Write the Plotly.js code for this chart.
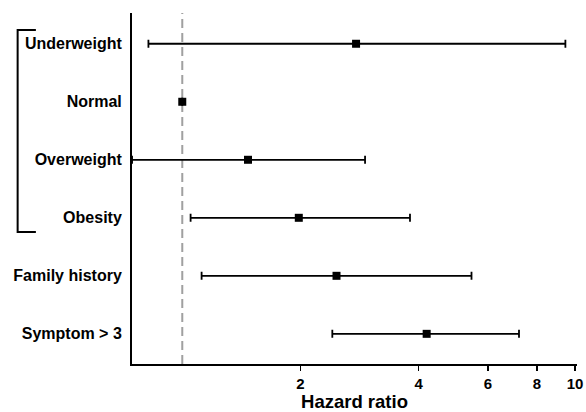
<!DOCTYPE html>
<html>
<head>
<meta charset="utf-8">
<script src="https://cdn.plot.ly/plotly-3.0.1.min.js"></script>
<style>html,body{margin:0;padding:0;background:#fff;}#chart{width:586px;height:412px;}</style>
</head>
<body>
<div id="chart"></div>
<script>
const categories = ["Underweight", "Normal", "Overweight", "Obesity", "Family history", "Symptom > 3"];
const hr = [2.77, 1.0, 1.47, 1.98, 2.47, 4.19];
const lower = [0.82, 1.0, 0.745, 1.05, 1.12, 2.41];
const upper = [9.45, 1.0, 2.92, 3.80, 5.45, 7.2];
const xTickVals = [2, 4, 6, 8, 10];
const xTickText = ["2", "4", "6", "8", "10"];

const idx = categories.map((c, i) => i);
const font = "Arial, 'Liberation Sans', sans-serif";

const trace = {
  type: "scatter",
  mode: "markers",
  x: hr,
  y: idx,
  marker: {symbol: "square", size: 8, color: "#000"},
  error_x: {
    type: "data",
    symmetric: false,
    array: hr.map((v, i) => upper[i] - v),
    arrayminus: hr.map((v, i) => v - lower[i]),
    color: "#000",
    thickness: 1.8,
    width: 4
  },
  cliponaxis: false,
  hoverinfo: "skip"
};

const layout = {
  width: 586,
  height: 412,
  margin: {l: 132, r: 9, t: 13, b: 48},
  paper_bgcolor: "#fff",
  plot_bgcolor: "#fff",
  showlegend: false,
  font: {family: font, color: "#000"},
  xaxis: {
    type: "log",
    range: [-0.128, 1.005],
    tickvals: xTickVals,
    ticktext: xTickText.map(t => "<b>" + t + "</b>"),
    ticks: "outside",
    ticklen: 5,
    tickwidth: 1.5,
    tickcolor: "#000",
    showline: true,
    linecolor: "#000",
    linewidth: 2,
    showgrid: false,
    zeroline: false,
    tickfont: {family: font, size: 15, color: "#000"},
    title: {text: "<b>Hazard ratio</b>", font: {family: font, size: 18.5, color: "#000"}, standoff: 5}
  },
  yaxis: {
    range: [5.52, -0.53],
    tickvals: idx,
    ticktext: categories.map(c => "<b>" + c + "</b>"),
    ticks: "outside",
    ticklen: 5,
    tickcolor: "rgba(0,0,0,0)",
    showline: true,
    linecolor: "#000",
    linewidth: 2,
    showgrid: false,
    zeroline: false,
    tickfont: {family: font, size: 16, color: "#000"}
  },
  shapes: [
    {type: "line", xref: "x", yref: "paper", x0: 1, x1: 1, y0: 0, y1: 1,
     line: {color: "#a0a0a0", width: 2, dash: "9px,5px"}, layer: "below"},
    {type: "path", xref: "paper", yref: "paper",
     path: "M -0.216 " + ((364-30)/351) + " L -0.257 " + ((364-30)/351) + " L -0.257 " + ((364-232)/351) + " L -0.216 " + ((364-232)/351),
     line: {color: "#000", width: 2}}
  ]
};

Plotly.newPlot("chart", [trace], layout, {displayModeBar: false, staticPlot: true});
</script>
</body>
</html>
